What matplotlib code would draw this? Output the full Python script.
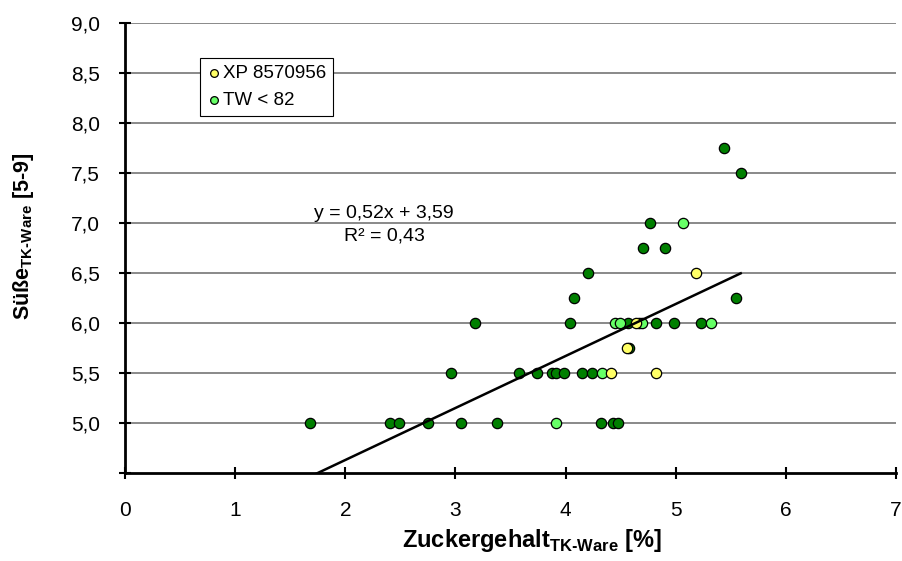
import matplotlib
matplotlib.use("Agg")
import matplotlib.pyplot as plt
import numpy as np

# Schrift wie Excel/Arial
plt.rcParams['font.family'] = ['Liberation Sans', 'DejaVu Sans']
plt.rcParams['mathtext.fontset'] = 'custom'
plt.rcParams['mathtext.rm'] = 'Liberation Sans'
plt.rcParams['mathtext.bf'] = 'Liberation Sans:bold'

# ====================== Daten ======================
# übrige Proben (dunkelgrün, ohne Legende)
x_dark = [1.68, 2.41, 2.49, 2.75, 3.05, 3.38, 4.32, 4.43, 4.48,
          2.96, 3.58, 3.74, 3.88, 3.91, 3.99, 4.15, 4.24,
          4.58,
          3.18, 4.04, 4.57, 4.67, 4.82, 4.98, 5.23,
          4.08, 5.55,
          4.20,
          4.70, 4.90,
          4.77,
          5.59,
          5.44]
y_dark = [5.0, 5.0, 5.0, 5.0, 5.0, 5.0, 5.0, 5.0, 5.0,
          5.5, 5.5, 5.5, 5.5, 5.5, 5.5, 5.5, 5.5,
          5.75,
          6.0, 6.0, 6.0, 6.0, 6.0, 6.0, 6.0,
          6.25, 6.25,
          6.5,
          6.75, 6.75,
          7.0,
          7.5,
          7.75]

# TW < 82
x_tw = [3.91, 4.33, 4.45, 4.49, 4.69, 5.32, 5.07]
y_tw = [5.0, 5.5, 6.0, 6.0, 6.0, 6.0, 7.0]

# XP 8570956
x_xp = [4.41, 4.82, 4.56, 4.64, 5.18]
y_xp = [5.5, 5.5, 5.75, 6.0, 6.5]

# Trendlinie (aus Excel-Gleichung)
slope = 0.52
intercept = 3.59
r2 = 0.43

x_ticks = [0, 1, 2, 3, 4, 5, 6, 7]
y_ticks = [4.5, 5.0, 5.5, 6.0, 6.5, 7.0, 7.5, 8.0, 8.5, 9.0]

# ====================== Plot ======================
fig = plt.figure(figsize=(9.02, 5.61), dpi=100)
ax = fig.add_axes([125 / 902, 1 - 473 / 561, 771 / 902, 450 / 561])

ax.set_xlim(0, 7)
ax.set_ylim(4.5, 9.0)

for yv in y_ticks[1:]:
    ax.axhline(yv, color='#808080', lw=1.3, zorder=0)

kw = dict(s=55, edgecolors='black', linewidths=0.9, zorder=3, clip_on=False)
ax.scatter(x_dark, y_dark, c='#007F00', **kw)
ax.scatter(x_tw, y_tw, c='#66FF66', label='TW < 82', **kw)
ax.scatter(x_xp, y_xp, c='#FFFF66', label='XP 8570956', **kw)

all_x = np.array(x_dark + x_tw + x_xp)
xl = np.array([all_x.min(), all_x.max()])
ax.plot(xl, slope * xl + intercept, color='black', lw=1.8, zorder=4)

eq = "y = " + f"{slope:.2f}".replace('.', ',') + "x + " + f"{intercept:.2f}".replace('.', ',')
ax.text(2.35, 7.10, eq, ha='center', va='center', fontsize=14)
ax.text(2.36, 6.87, "R² = " + f"{r2:.2f}".replace('.', ','), ha='center', va='center', fontsize=14)

ax.set_xticks(x_ticks)
ax.set_xticklabels([str(v) for v in x_ticks], fontsize=15)
ax.set_yticks(y_ticks)
ax.set_yticklabels([''] + [f"{v:.1f}".replace('.', ',') for v in y_ticks[1:]], fontsize=15)
ax.tick_params(axis='both', direction='inout', length=8, width=1.5, color='black')
ax.tick_params(axis='y', pad=14)
ax.tick_params(axis='x', pad=16)

for s in ['top', 'right']:
    ax.spines[s].set_visible(False)
for s in ['left', 'bottom']:
    ax.spines[s].set_linewidth(2)

h, l = ax.get_legend_handles_labels()
leg = ax.legend(h[::-1], l[::-1], loc='upper left', bbox_to_anchor=(0.097, 0.922),
                fontsize=13.5, markerscale=0.75, handletextpad=0.1, handlelength=0.8,
                borderpad=0.35, labelspacing=0.55, fancybox=False, framealpha=1,
                edgecolor='black', borderaxespad=0)
leg.get_frame().set_linewidth(0.8)
leg.set_zorder(5)

fig.text(532 / 902, 1 - 541 / 561, r"$\mathbf{Zuckergehalt}_{\mathbf{TK‑Ware}}$ [%]",
         ha='center', va='center', fontsize=17, fontweight='bold')
fig.text(24 / 902, 1 - 236 / 561, r"$\mathbf{Süße}_{\mathbf{TK‑Ware}}$ [5-9]",
         ha='center', va='center', rotation=90, fontsize=15.5, fontweight='bold')

plt.savefig("out.png", dpi=100)
plt.close()
